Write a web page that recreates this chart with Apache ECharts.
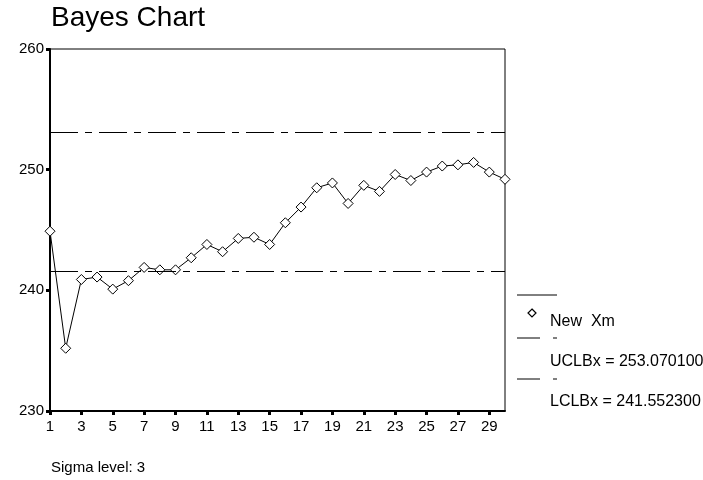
<!DOCTYPE html>
<html>
<head>
<meta charset="utf-8">
<script src="https://cdn.jsdelivr.net/npm/echarts@6/dist/echarts.min.js"></script>
<style>
html,body{margin:0;padding:0;background:#fff;}
#chart{width:703px;height:480px;}
</style>
</head>
<body>
<div id="chart"></div>
<script>
const titleText = 'Bayes Chart';
const footnote = 'Sigma level: 3';
const categories = ['1','2','3','4','5','6','7','8','9','10','11','12','13','14','15','16','17','18','19','20','21','22','23','24','25','26','27','28','29','30'];
const newXm = [244.9,235.2,240.9,241.1,240.1,240.8,241.9,241.7,241.7,242.7,243.8,243.2,244.3,244.4,243.8,245.6,246.9,248.5,248.9,247.2,248.7,248.2,249.6,249.1,249.8,250.3,250.4,250.6,249.8,249.2];
const ucl = 253.0701;
const lcl = 241.5523;
const yTicks = { min: 230, max: 260, interval: 10 };
const legendLabels = ['New  Xm', 'UCLBx = 253.070100', 'LCLBx = 241.552300'];

const font = 'Liberation Sans, Arial, sans-serif';
const dashDot = [28, 7, 7, 7];

const chart = echarts.init(document.getElementById('chart'), null, { renderer: 'canvas' });
chart.setOption({
  animation: false,
  backgroundColor: '#fff',
  grid: {
    left: 50, right: 198, top: 49, bottom: 69,
    show: true, borderColor: '#000', borderWidth: 1, backgroundColor: 'transparent'
  },
  xAxis: {
    type: 'category', data: categories, boundaryGap: false,
    axisLine: { lineStyle: { color: '#000', width: 2 } },
    axisTick: { interval: 1, length: 4, lineStyle: { color: '#000', width: 3 } },
    axisLabel: { interval: 1, color: '#000', fontFamily: font, fontSize: 15, margin: 8 },
    splitLine: { show: false }
  },
  yAxis: {
    type: 'value', min: yTicks.min, max: yTicks.max, interval: yTicks.interval,
    axisLine: { show: true, lineStyle: { color: '#000', width: 2 } },
    axisTick: { show: true, length: 4, lineStyle: { color: '#000', width: 3 } },
    axisLabel: { color: '#000', fontFamily: font, fontSize: 15, margin: 6 },
    splitLine: { show: false }
  },
  series: [{
    type: 'line', name: legendLabels[0], data: newXm,
    symbol: 'diamond', symbolSize: 10, showAllSymbol: true,
    lineStyle: { color: '#000', width: 1 },
    itemStyle: { color: '#fff', borderColor: '#000', borderWidth: 1 },
    markLine: {
      silent: true, symbol: 'none', label: { show: false },
      lineStyle: { color: '#000', width: 1, type: dashDot },
      data: [{ yAxis: ucl }, { yAxis: lcl }]
    },
    z: 3
  }],
  graphic: [
    { type: 'text', style: { x: 51, y: 18, text: titleText, font: '28px ' + font, fill: '#000', verticalAlign: 'middle' } },
    { type: 'line', shape: { x1: 517, y1: 295, x2: 557, y2: 295 }, style: { stroke: '#000', lineWidth: 1 } },
    { type: 'polygon', shape: { points: [[532, 309], [536, 313], [532, 317], [528, 313]] }, style: { fill: '#fff', stroke: '#000', lineWidth: 1.2 } },
    { type: 'text', style: { x: 550, y: 322, text: legendLabels[0], font: '16px ' + font, fill: '#000', verticalAlign: 'middle' } },
    { type: 'line', shape: { x1: 517, y1: 338, x2: 540, y2: 338 }, style: { stroke: '#000', lineWidth: 1 } },
    { type: 'line', shape: { x1: 553, y1: 338, x2: 557, y2: 338 }, style: { stroke: '#000', lineWidth: 1 } },
    { type: 'text', style: { x: 550, y: 362, text: legendLabels[1], font: '16px ' + font, fill: '#000', verticalAlign: 'middle' } },
    { type: 'line', shape: { x1: 517, y1: 379, x2: 540, y2: 379 }, style: { stroke: '#000', lineWidth: 1 } },
    { type: 'line', shape: { x1: 553, y1: 379, x2: 557, y2: 379 }, style: { stroke: '#000', lineWidth: 1 } },
    { type: 'text', style: { x: 550, y: 402, text: legendLabels[2], font: '16px ' + font, fill: '#000', verticalAlign: 'middle' } },
    { type: 'text', style: { x: 51, y: 468, text: footnote, font: '15px ' + font, fill: '#000', verticalAlign: 'middle' } }
  ]
});
</script>
</body>
</html>
